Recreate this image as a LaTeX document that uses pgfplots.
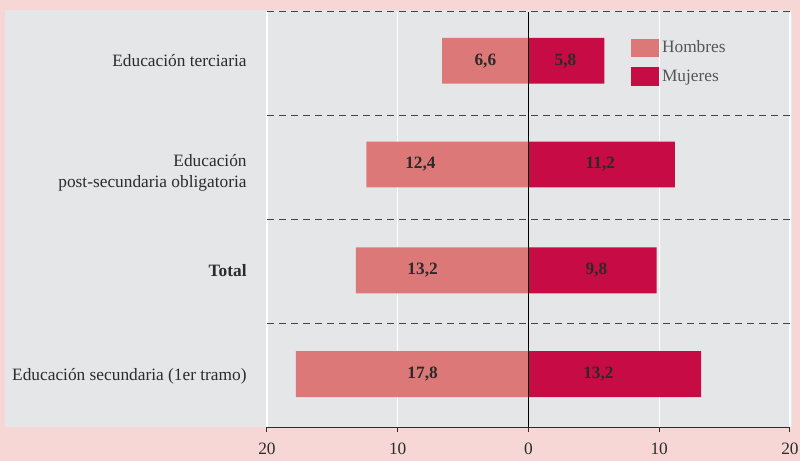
\documentclass[border=0pt]{standalone}
\usepackage{fontspec}
\setmainfont{Liberation Serif}
\usepackage{pgfplots}
\pgfplotsset{compat=1.18}
\definecolor{bgpink}{HTML}{F6D7D6}
\definecolor{panel}{HTML}{E5E6E8}
\definecolor{hombres}{HTML}{DD7878}
\definecolor{mujeres}{HTML}{C70B45}
\definecolor{txt}{HTML}{2B2B2B}
\definecolor{legtxt}{HTML}{555555}
\definecolor{dashc}{HTML}{444444}

\pgfplotsset{
  legbox/.style={legend image code/.code={\fill[##1] (0pt,-6.9pt) rectangle (21pt,6.9pt);}},
}

\begin{document}
\begin{tikzpicture}
% 1 px of the reference = 0.75pt; axis box lower left = px (267,427)
\useasboundingbox (-200.25pt,-25.5pt) rectangle (399.75pt,320.25pt);
\fill[bgpink] (-200.25pt,-25.5pt) rectangle (399.75pt,320.25pt);
\fill[panel] (-196.5pt,0pt) rectangle (393.75pt,312.75pt);
\begin{axis}[
  at={(0,0)}, anchor=south west,
  scale only axis, width=392.25pt, height=311.25pt,
  xmin=-20, xmax=20, ymin=0, ymax=4,
  axis x line=bottom, axis y line=none,
  axis line style={-, color=txt, line width=0.75pt},
  xtick={-20,-10,0,10,20}, xticklabels={20,10,0,10,20},
  ytick=\empty,
  tick align=outside, major tick length=3.75pt,
  tick style={txt, line width=0.75pt},
  xmajorgrids, major grid style={white, line width=0.9pt},
  ticklabel style={font=\fontsize{13}{15}\selectfont, text=txt},
  xticklabel style={yshift=-5pt},
  /pgf/number format/assume math mode=true,
  clip=false,
  legend style={draw=none, fill=none, at={(axis cs:7.85,3.75)}, anchor=north west,
    font=\fontsize{13}{15}\selectfont, text=legtxt, row sep=7pt, inner sep=0pt},
  legend cell align=left,
]
\addplot[xbar, bar shift=0pt, bar width=0.443, fill=hombres, draw=none, legbox]
  coordinates {(-6.6,3.53) (-12.4,2.53) (-13.2,1.51) (-17.8,0.51)};
\addlegendentry{Hombres}
\addplot[xbar, bar shift=0pt, bar width=0.443, fill=mujeres, draw=none, legbox]
  coordinates {(5.8,3.53) (11.2,2.53) (9.8,1.51) (13.2,0.51)};
\addlegendentry{Mujeres}

% separators and zero line
\pgfplotsinvokeforeach{1,2,3,4}{
  \draw[dashc, line width=0.75pt, dash pattern=on 5.25pt off 3.75pt]
    (axis cs:-20,#1) -- (axis cs:20,#1);
}
\draw[black, line width=0.75pt] (axis cs:0,0) -- (axis cs:0,4);

% value labels
\begin{scope}[every node/.style={font=\fontsize{13}{15}\selectfont\bfseries, text=txt}]
\node at (axis cs:-3.3,3.53) {6,6};
\node at (axis cs:-8.26,2.53) {12,4};
\node at (axis cs:-8.1,1.51) {13,2};
\node at (axis cs:-8.1,0.51) {17,8};
\node at (axis cs:2.83,3.53) {5,8};
\node at (axis cs:5.5,2.53) {11,2};
\node at (axis cs:5.2,1.51) {9,8};
\node at (axis cs:5.35,0.51) {13,2};
\end{scope}

% category labels
\begin{scope}[every node/.style={font=\fontsize{13}{15.75}\selectfont, text=txt, anchor=east, align=right}]
\node at (axis cs:-21.2,3.53) {Educación terciaria};
\node at (axis cs:-21.2,2.45) {Educación\\post-secundaria obligatoria};
\node[font=\fontsize{13}{15}\selectfont\bfseries] at (axis cs:-21.2,1.51) {Total};
\node at (axis cs:-21.2,0.49) {Educación secundaria (1er tramo)};
\end{scope}
\end{axis}
\end{tikzpicture}
\end{document}
